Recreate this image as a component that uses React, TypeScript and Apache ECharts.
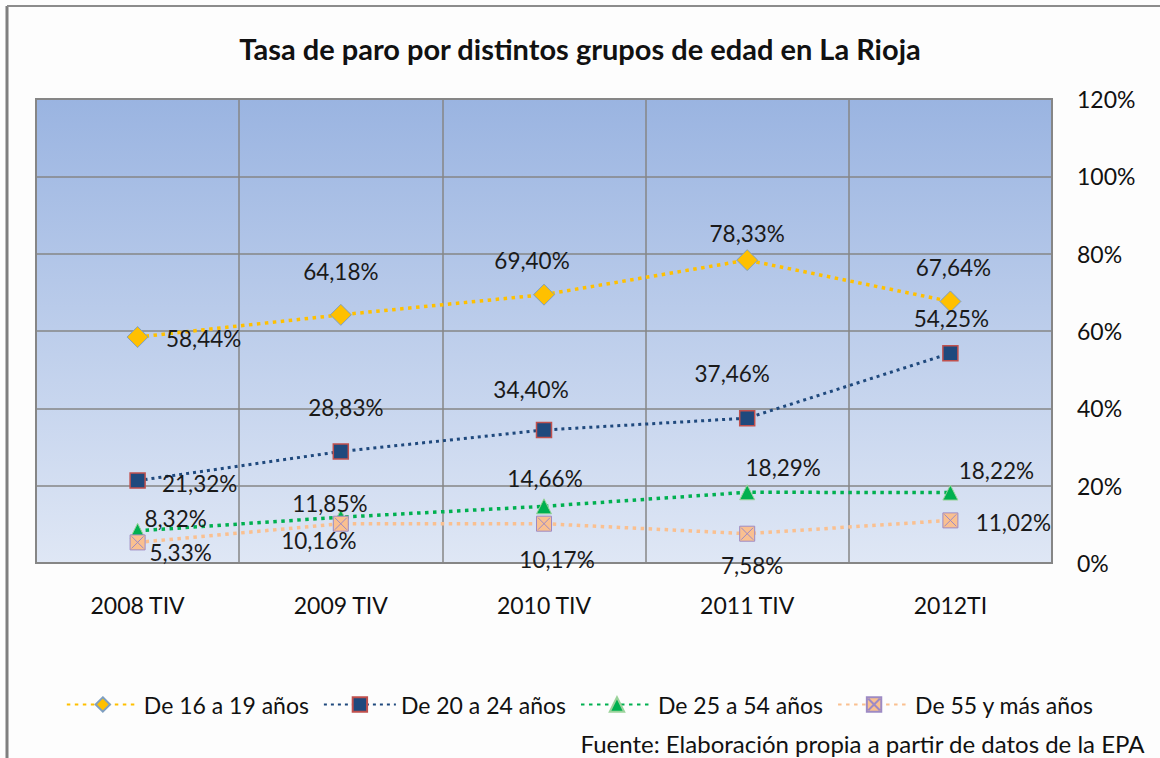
import React, { useEffect, useRef } from "react";
import * as echarts from "echarts";

const categories = ["2008 TIV", "2009 TIV", "2010 TIV", "2011 TIV", "2012TI"];
const seriesNames = ["De 16 a 19 años", "De 20 a 24 años", "De 25 a 54 años", "De 55 y más años"];
const values16_19 = [58.44, 64.18, 69.4, 78.33, 67.64];
const values20_24 = [21.32, 28.83, 34.4, 37.46, 54.25];
const values25_54 = [8.32, 11.85, 14.66, 18.29, 18.22];
const values55 = [5.33, 10.16, 10.17, 7.58, 11.02];
const yTicks = { min: 0, max: 120, interval: 20 };

// label offsets (label centre relative to the point), in pixels
const offs16_19 = [[66, 1], [0, -43], [-12, -34], [0, -27], [3, -34]];
const offs20_24 = [[62, 3], [5, -44], [-13, -40], [-15, -45], [1, -35]];
const offs25_54 = [[38, -12], [-11, -14], [1, -28], [36, -25], [46, -22]];
const offs55 = [[43, 10], [-22, 17], [13, 36], [5, 32], [63, 2]];

const FONT = "Lato";

const fmt = (v: number) => v.toFixed(2).replace(".", ",") + "%";

function buildData(vals: number[], offs: number[][]) {
  return vals.map((v, i) => ({
    value: v,
    label: { offset: offs[i] },
  }));
}

export default function App() {
  const ref = useRef<HTMLDivElement>(null);
  useEffect(() => {
    if (!ref.current) return;
    const chart = echarts.init(ref.current, null, { renderer: "svg" });
    const labelBase = {
      show: true,
      position: "inside",
      formatter: (p: any) => fmt(p.value),
      fontFamily: FONT,
      fontSize: 22.5,
      color: "#1a1a1a",
    };
    const mk = (
      name: string,
      vals: number[],
      offs: number[][],
      color: string,
      width: number,
      symbol: string,
      symbolSize: number,
      itemStyle: any
    ) => ({
      name,
      type: "line",
      data: buildData(vals, offs),
      symbol,
      symbolSize,
      lineStyle: { color, width, type: [width, width + 1] as any, cap: "butt" },
      itemStyle,
      label: labelBase,
      z: 3,
    });
    chart.setOption({
      animation: false,
      backgroundColor: "#fdfdfd",
      title: {
        text: "Tasa de paro por distintos grupos de edad en La Rioja",
        left: "center",
        top: 29,
        textStyle: { fontFamily: FONT, fontSize: 29, fontWeight: "bold", color: "#111" },
      },
      grid: {
        left: 36,
        right: 108,
        top: 99,
        bottom: 195,
        show: true,
        borderColor: "#868686",
        borderWidth: 2,
        backgroundColor: {
          type: "linear",
          x: 0,
          y: 0,
          x2: 0,
          y2: 1,
          colorStops: [
            { offset: 0, color: "#9ab4e1" },
            { offset: 1, color: "#dfe7f5" },
          ],
        },
      },
      legend: {
        bottom: 37,
        left: "center",
        itemWidth: 72,
        itemHeight: 18,
        itemGap: 14,
        textStyle: { fontFamily: FONT, fontSize: 23, color: "#111" },
        data: seriesNames,
      },
      xAxis: {
        type: "category",
        data: categories,
        boundaryGap: true,
        axisLine: { show: true, lineStyle: { color: "#868686", width: 2 } },
        axisTick: { show: false },
        splitLine: { show: true, lineStyle: { color: "#868686", width: 1.5 } },
        axisLabel: { margin: 30, fontFamily: FONT, fontSize: 23, color: "#111" },
      },
      yAxis: {
        type: "value",
        position: "right",
        min: yTicks.min,
        max: yTicks.max,
        interval: yTicks.interval,
        axisLine: { show: false },
        axisTick: { show: false },
        splitLine: { show: true, lineStyle: { color: "#868686", width: 1.5 } },
        axisLabel: {
          margin: 25,
          fontFamily: FONT,
          fontSize: 23,
          color: "#111",
          formatter: (v: number) => v + "%",
        },
      },
      graphic: [
        { type: "line", shape: { x1: 7, y1: 6, x2: 7, y2: 758 }, style: { stroke: "#7f7f7f", lineWidth: 3 } },
        { type: "line", shape: { x1: 7, y1: 6, x2: 1160, y2: 6 }, style: { stroke: "#8c8c8c", lineWidth: 2 } },
        {
          type: "text",
          right: 15,
          top: 731,
          style: {
            text: "Fuente: Elaboración propia a partir de datos de la EPA",
            fontFamily: FONT,
            fontSize: 24,
            fill: "#111",
          },
        },
      ],
      series: [
        mk(seriesNames[0], values16_19, offs16_19, "#FFC000", 3.5, "diamond", 21, {
          color: "#FFC000",
          borderColor: "#7f9fc0",
          borderWidth: 1,
        }),
        mk(seriesNames[1], values20_24, offs20_24, "#1F497D", 3, "rect", 15, {
          color: "#1F497D",
          borderColor: "#C0504D",
          borderWidth: 1.5,
        }),
        mk(seriesNames[2], values25_54, offs25_54, "#00B050", 3.5, "triangle", 15, {
          color: "#00B050",
          borderColor: "#9bd39b",
          borderWidth: 1,
        }),
        mk(
          seriesNames[3],
          values55,
          offs55,
          "#FAC090",
          3.5,
          "path://M0,0L10,0L10,10L0,10Z M1,1L9,9 M9,1L1,9",
          15,
          { color: "#FAC090", borderColor: "#9d8ac4", borderWidth: 1 }
        ),
      ],
    });
    return () => chart.dispose();
  }, []);
  return (
    <div
      ref={ref}
      style={{ position: "fixed", left: 0, top: 0, width: 1160, height: 758 }}
    />
  );
}
